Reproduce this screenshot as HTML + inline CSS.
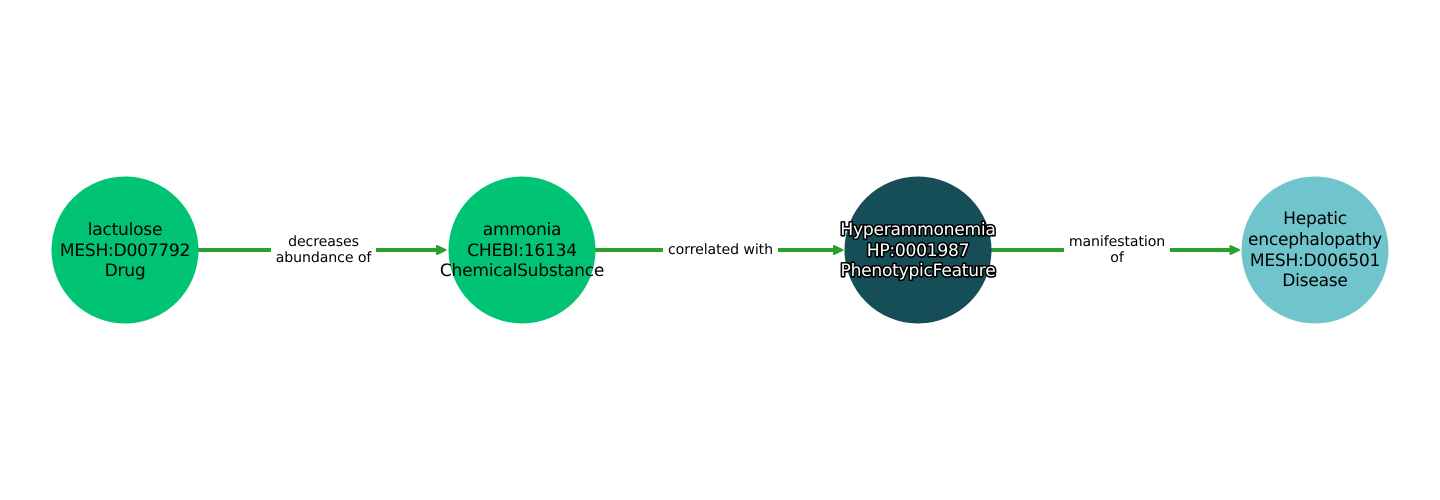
<!DOCTYPE html>
<html>
<head>
<meta charset="utf-8">
<style>
html,body{margin:0;padding:0;background:#fff;width:1440px;height:500px;overflow:hidden}
svg{display:block}
text{font-family:"DejaVu Sans","Liberation Sans",sans-serif;text-anchor:middle;fill:#000;text-rendering:geometricPrecision}
.n{font-size:17.1px;letter-spacing:-0.26px}
.e{font-size:14.1px;letter-spacing:-0.08px}
.h{fill:#fff;stroke:#000;stroke-width:3.2px;paint-order:stroke fill;stroke-linejoin:round}
</style>
</head>
<body>
<svg width="1440" height="500" viewBox="0 0 1440 500" xmlns="http://www.w3.org/2000/svg">
<g stroke="#2ca02c" stroke-width="4" fill="none">
<line x1="198" y1="250" x2="440" y2="250"/>
<line x1="595" y1="250" x2="837" y2="250"/>
<line x1="991" y1="250" x2="1233" y2="250"/>
</g>
<g fill="#2ca02c" stroke="#2ca02c" stroke-width="2" stroke-linejoin="round">
<path d="M437 246 L445.500 250 L437 254 Z"/>
<path d="M834 246 L842.500 250 L834 254 Z"/>
<path d="M1230.500 246 L1239 250 L1230.500 254 Z"/>
</g>
<g fill="#fff">
<rect x="271" y="230" width="105" height="40"/>
<rect x="663" y="238" width="115" height="24"/>
<rect x="1064" y="230" width="106" height="40"/>
</g>
<circle cx="125" cy="250" r="73.500" fill="#00c474"/>
<circle cx="522" cy="250" r="73.500" fill="#00c474"/>
<circle cx="918" cy="250" r="73.500" fill="#164e57"/>
<circle cx="1315" cy="250" r="73.500" fill="#70c5cc"/>
<g class="n">
<text x="125" y="235">lactulose</text>
<text x="125" y="256">MESH:D007792</text>
<text x="125" y="276">Drug</text>
<text x="522" y="235">ammonia</text>
<text x="522" y="256">CHEBI:16134</text>
<text x="522" y="276">ChemicalSubstance</text>
<text class="h" x="918" y="235">Hyperammonemia</text>
<text class="h" x="918" y="256">HP:0001987</text>
<text class="h" x="918" y="276">PhenotypicFeature</text>
<text x="1315" y="224">Hepatic</text>
<text x="1315" y="245">encephalopathy</text>
<text x="1315" y="266">MESH:D006501</text>
<text x="1315" y="286">Disease</text>
</g>
<g class="e">
<text x="323.500" y="246">decreases</text>
<text x="323.500" y="262">abundance of</text>
<text x="720.500" y="254">correlated with</text>
<text x="1117" y="246">manifestation</text>
<text x="1117" y="262">of</text>
</g>
</svg>
</body>
</html>
